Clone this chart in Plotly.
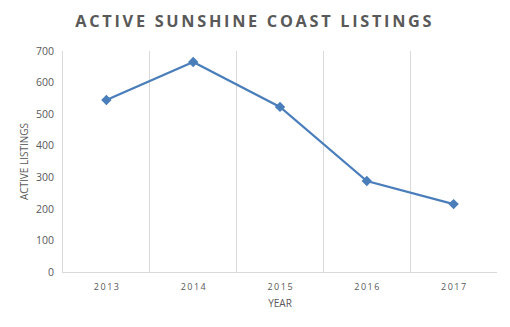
import plotly.graph_objects as go

years = ["2013", "2014", "2015", "2016", "2017"]
listings = [545, 665, 523, 288, 215]
y_ticks = [0, 100, 200, 300, 400, 500, 600, 700]

def spaced(s, sep="\u2009"):
    return sep.join(list(s))

fig = go.Figure()
fig.add_trace(go.Scatter(
    x=years, y=listings, mode="lines+markers",
    line=dict(color="#4A7EBB", width=2.25),
    marker=dict(symbol="diamond", size=8, color="#4A7EBB"),
))

fig.update_layout(
    width=510, height=327,
    margin=dict(l=63, r=13, t=51, b=55),
    paper_bgcolor="white", plot_bgcolor="white",
    showlegend=False,
    title=dict(text="<b>" + spaced("ACTIVE SUNSHINE COAST LISTINGS") + "</b>",
               x=0.497, xanchor="center", y=0.935, yanchor="middle",
               font=dict(family="Open Sans", size=16.3, color="#595959")),
    font=dict(family="Open Sans", color="#595959"),
)
fig.update_xaxes(
    type="category", range=[-0.5, 4.5],
    tickson="boundaries", showgrid=True, gridcolor="#D9D9D9", gridwidth=1,
    showline=True, linecolor="#D9D9D9", linewidth=1,
    ticks="", tickvals=years, ticktext=[spaced(y, "\u2009") for y in years],
    tickfont=dict(size=9, color="#595959"), ticklabelstandoff=6,
    title=dict(text="YEAR", font=dict(size=10, color="#595959"), standoff=8),
    fixedrange=True,
)
fig.update_yaxes(
    range=[0, 700], tickvals=y_ticks,
    showgrid=False, zeroline=False,
    showline=True, linecolor="#D9D9D9", linewidth=1,
    ticks="", tickfont=dict(size=10.5, color="#595959"), ticklabelstandoff=6,
    title=dict(text="ACTIVE LISTINGS", font=dict(size=10, color="#595959"), standoff=5),
)

fig.write_html("out.html")
